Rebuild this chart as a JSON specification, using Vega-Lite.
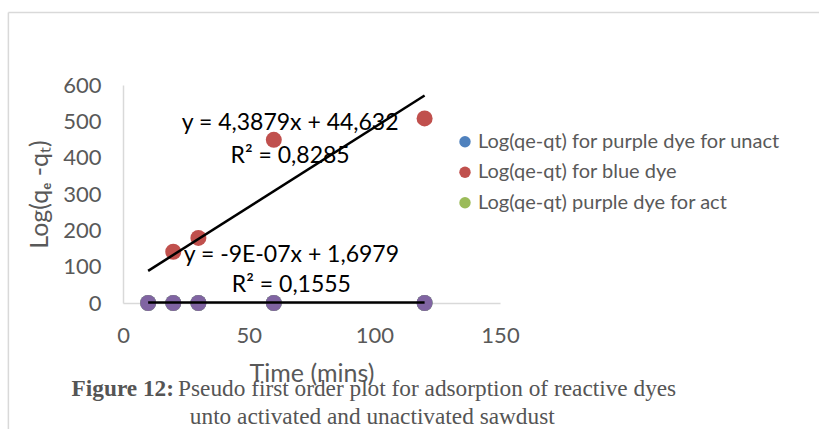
{
  "$schema": "https://vega.github.io/schema/vega-lite/v6.json",
  "width": 377,
  "height": 218,
  "autosize": {"type": "none"},
  "padding": {"left": 123, "top": 85, "right": 319, "bottom": 126},
  "background": "white",
  "config": {
    "view": {"stroke": null},
    "font": "Lato",
    "axis": {
      "domainColor": "#d9d9d9",
      "domainWidth": 1.5,
      "ticks": false,
      "grid": false,
      "labelColor": "#595959",
      "labelFontSize": 22,
      "labelFont": "Lato",
      "labelOverlap": false,
      "labelFlush": false,
      "titleColor": "#595959",
      "titleFontSize": 25,
      "titleFont": "Lato",
      "titleFontWeight": "normal"
    },
    "axisY": {"labelOverlap": false, "labelSeparation": 0},
    "axisQuantitative": {"labelOverlap": false},
    "legend": {
      "orient": "none",
      "legendX": 332,
      "legendY": 46.7,
      "title": null,
      "labelFont": "Lato",
      "labelFontSize": 20,
      "labelColor": "#595959",
      "labelLimit": 0,
      "symbolType": "circle",
      "symbolSize": 130,
      "symbolStrokeWidth": 0,
      "rowPadding": 10.5,
      "labelOffset": 3
    }
  },
  "datasets": {
    "frame": [
      {"x1": -45.6, "x2": -45.6, "y1": -400, "y2": 799.4},
      {"x1": -45.6, "x2": 300, "y1": 799.4, "y2": 799.4}
    ],
    "points": [
      {"series": "Log(qe-qt) for purple dye for unact", "t": 10, "v": 0},
      {"series": "Log(qe-qt) for purple dye for unact", "t": 20, "v": 0},
      {"series": "Log(qe-qt) for purple dye for unact", "t": 30, "v": 0},
      {"series": "Log(qe-qt) for purple dye for unact", "t": 60, "v": 0},
      {"series": "Log(qe-qt) for purple dye for unact", "t": 120, "v": 0},
      {"series": "Log(qe-qt) purple dye for act", "t": 10, "v": 0},
      {"series": "Log(qe-qt) purple dye for act", "t": 20, "v": 0},
      {"series": "Log(qe-qt) purple dye for act", "t": 30, "v": 0},
      {"series": "Log(qe-qt) purple dye for act", "t": 60, "v": 0},
      {"series": "Log(qe-qt) purple dye for act", "t": 120, "v": 0},
      {"series": "Log(qe-qt) for blue dye", "t": 20, "v": 141},
      {"series": "Log(qe-qt) for blue dye", "t": 30, "v": 179},
      {"series": "Log(qe-qt) for blue dye", "t": 60, "v": 449},
      {"series": "Log(qe-qt) for blue dye", "t": 120, "v": 508}
    ],
    "purple": [
      {"t": 10, "v": 0},
      {"t": 20, "v": 0},
      {"t": 30, "v": 0},
      {"t": 60, "v": 0},
      {"t": 120, "v": 0}
    ],
    "trend": [
      {"s": "blue", "t": 10, "v": 88.5},
      {"s": "blue", "t": 120, "v": 571.2},
      {"s": "zero", "t": 10, "v": 1.7},
      {"s": "zero", "t": 120, "v": 1.6}
    ],
    "eqs": [
      {"label": "y = 4,3879x + 44,632", "t": 66.5, "v": 476},
      {"label": "R² = 0,8285", "t": 66.5, "v": 385},
      {"label": "y = -9E-07x + 1,6979", "t": 67, "v": 113},
      {"label": "R² = 0,1555", "t": 67, "v": 30}
    ],
    "capBold": [
      {"label": "Figure 12:", "t": 20.3, "v": -256}
    ],
    "capText": [
      {"label": "Pseudo first order plot for adsorption of reactive dyes", "t": 20.3, "v": -256},
      {"label": "unto activated and unactivated sawdust", "t": 25.0, "v": -333}
    ]
  },
  "layer": [
    {
      "data": {"name": "points"},
      "mark": {"type": "circle", "size": 256, "opacity": 1},
      "encoding": {
        "x": {"field": "t", "type": "quantitative", "scale": {"domain": [0, 150], "nice": false},
          "axis": {"values": [0, 50, 100, 150], "labelPadding": 22, "labelFlush": false, "labelOverlap": false, "title": "Time (mins)", "titlePadding": 15}},
        "y": {"field": "v", "type": "quantitative", "scale": {"domain": [0, 600], "nice": false},
          "axis": {"values": [0, 100, 200, 300, 400, 500, 600], "tickCount": 7, "labelPadding": 22, "labelFlush": false, "labelOverlap": false, "labelSeparation": 0, "title": "Log(qₑ -qₜ)", "titlePadding": 10}},
        "color": {"field": "series", "type": "nominal",
          "scale": {"domain": ["Log(qe-qt) for purple dye for unact", "Log(qe-qt) for blue dye", "Log(qe-qt) purple dye for act"],
                    "range": ["#4f81bd", "#c0504d", "#9bbb59"]}}
      }
    },
    {
      "data": {"name": "frame"},
      "mark": {"type": "rule", "color": "#d9d9d9", "strokeWidth": 1.5, "clip": false},
      "encoding": {
        "x": {"field": "x1", "type": "quantitative"},
        "x2": {"field": "x2"},
        "y": {"field": "y1", "type": "quantitative"},
        "y2": {"field": "y2"}
      }
    },
    {
      "data": {"name": "purple"},
      "mark": {"type": "circle", "size": 256, "opacity": 1, "color": "#8064a2"},
      "encoding": {
        "x": {"field": "t", "type": "quantitative"},
        "y": {"field": "v", "type": "quantitative"}
      }
    },
    {
      "data": {"name": "trend"},
      "mark": {"type": "line", "color": "black", "strokeWidth": 2.5},
      "encoding": {
        "x": {"field": "t", "type": "quantitative"},
        "y": {"field": "v", "type": "quantitative"},
        "detail": {"field": "s"}
      }
    },
    {
      "data": {"name": "eqs"},
      "mark": {"type": "text", "fontSize": 23, "font": "Lato", "color": "black", "align": "center", "baseline": "alphabetic"},
      "encoding": {
        "x": {"field": "t", "type": "quantitative"},
        "y": {"field": "v", "type": "quantitative"},
        "text": {"field": "label"}
      }
    },
    {
      "data": {"name": "capBold"},
      "mark": {"type": "text", "fontSize": 23.3, "font": "Liberation Serif", "fontWeight": "bold", "color": "#555555", "align": "right", "baseline": "alphabetic", "clip": false},
      "encoding": {
        "x": {"field": "t", "type": "quantitative"},
        "y": {"field": "v", "type": "quantitative"},
        "text": {"field": "label"}
      }
    },
    {
      "data": {"name": "capText"},
      "mark": {"type": "text", "fontSize": 23.3, "font": "Liberation Serif", "color": "#555555", "align": "left", "baseline": "alphabetic", "dx": 4, "clip": false},
      "encoding": {
        "x": {"field": "t", "type": "quantitative"},
        "y": {"field": "v", "type": "quantitative"},
        "text": {"field": "label"}
      }
    }
  ]
}
